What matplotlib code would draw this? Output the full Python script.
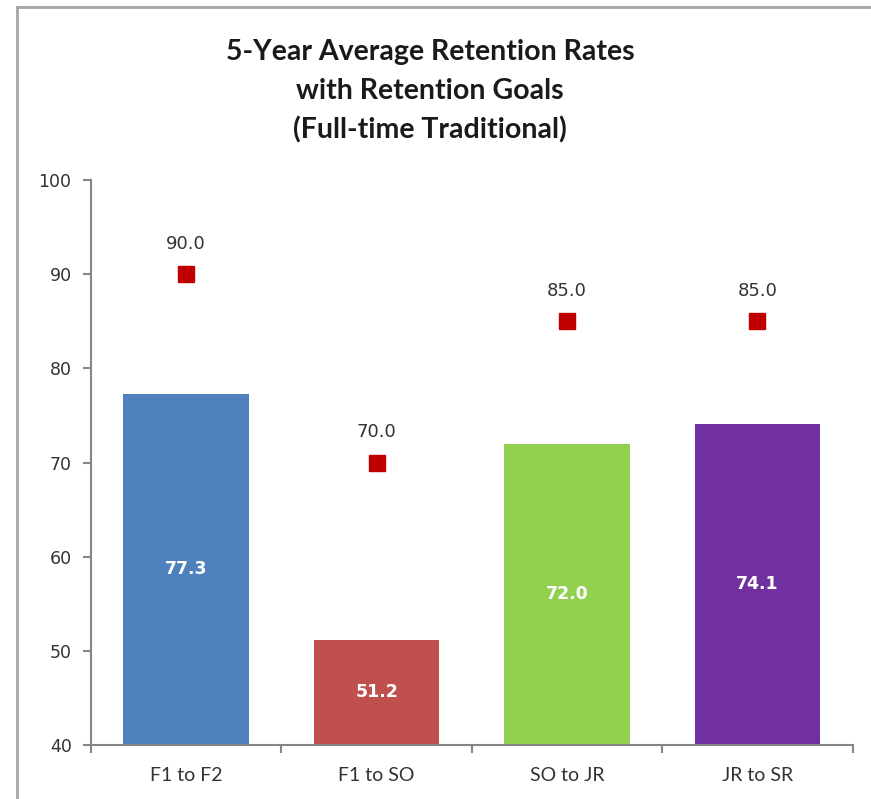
import matplotlib
matplotlib.use("Agg")
import matplotlib.pyplot as plt
from matplotlib.lines import Line2D
from matplotlib.ticker import FixedLocator

categories = ["F1 to F2", "F1 to SO", "SO to JR", "JR to SR"]
rates = [77.3, 51.2, 72.0, 74.1]
goals = [90.0, 70.0, 85.0, 85.0]
bar_colors = ["#4F81BD", "#C0504D", "#92D050", "#7030A0"]
y_ticks = [40, 50, 60, 70, 80, 90, 100]

fig = plt.figure(figsize=(8.71, 7.99), dpi=100)
ax = fig.add_axes([0.1045, 0.0676, 0.8745, 0.7071])

x = list(range(len(categories)))
ax.bar(x, [r - 40 for r in rates], bottom=40, width=0.66, color=bar_colors)
ax.plot(x, goals, linestyle="none", marker="s", markersize=11,
        color="#C00000", markeredgecolor="#C00000")

for xi, r in zip(x, rates):
    ax.text(xi, (r + 40) / 2, f"{r:.1f}", ha="center", va="center",
            color="white", fontsize=12.5, fontweight="bold")
for xi, g in zip(x, goals):
    ax.annotate(f"{g:.1f}", (xi, g), xytext=(0, 22), textcoords="offset points",
                ha="center", va="center", fontsize=13, color="#333333")

ax.set_xlim(-0.5, len(categories) - 0.5)
ax.set_ylim(40, 100)
ax.set_yticks(y_ticks)
ax.set_xticks(x)
ax.set_xticklabels(categories, family=["Lato", "DejaVu Sans"])
ax.xaxis.set_minor_locator(FixedLocator([i - 0.5 for i in range(len(categories) + 1)]))
ax.tick_params(axis="x", which="major", length=0, pad=16, labelsize=14, labelcolor="#333333")
ax.tick_params(axis="x", which="minor", length=6, direction="out", color="#868686", width=1.5)
ax.tick_params(axis="y", length=6, direction="out", color="#868686", width=1.5,
               labelsize=12.5, labelcolor="#333333", pad=8)

for side in ("top", "right"):
    ax.spines[side].set_visible(False)
for side in ("left", "bottom"):
    ax.spines[side].set_color("#868686")
    ax.spines[side].set_linewidth(1.5)

title_lines = ["5-Year Average Retention Rates", "with Retention Goals", "(Full-time Traditional)"]
for i, line in enumerate(title_lines):
    fig.text(0.494, 1 - (52 + 39 * i) / 799, line, ha="center", va="center",
             fontsize=20.5, fontweight="bold", family=["Lato", "DejaVu Sans"], color="#1a1a1a")

# frame lines of the original screenshot
fig.add_artist(Line2D([17 / 871, 1], [1 - 7 / 799, 1 - 7 / 799], color="#A6A6A6", linewidth=2,
                      transform=fig.transFigure))
fig.add_artist(Line2D([17 / 871, 17 / 871], [0, 1 - 7 / 799], color="#A6A6A6", linewidth=2,
                      transform=fig.transFigure))

fig.savefig("out.png", dpi=100)
